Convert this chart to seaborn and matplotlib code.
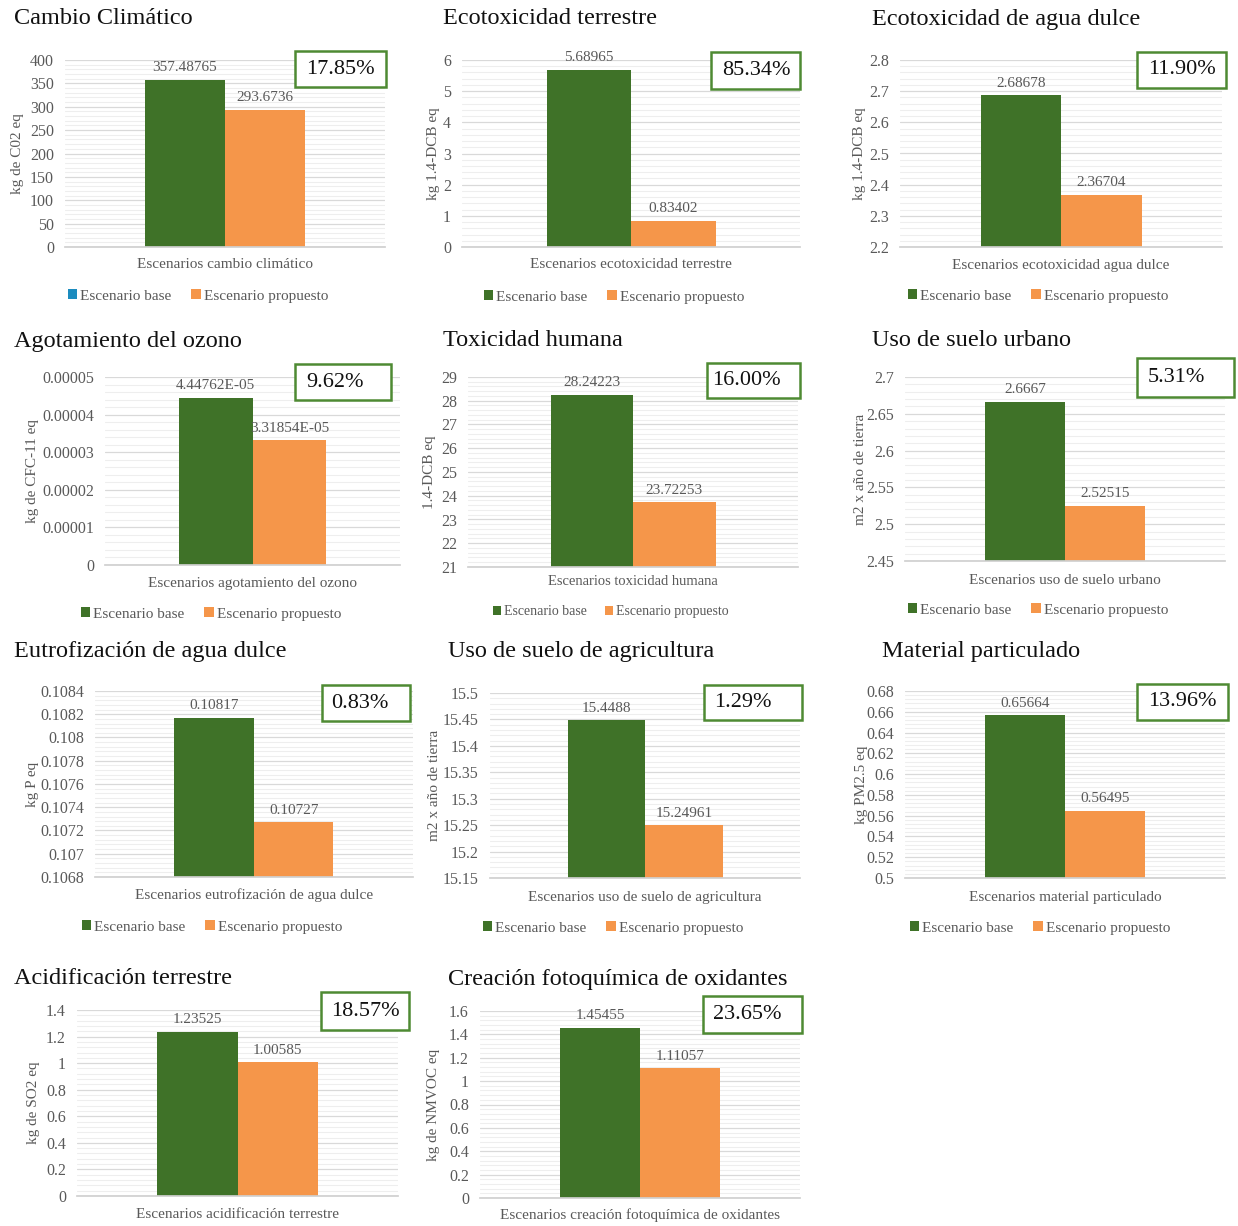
import numpy as np
import pandas as pd
import matplotlib
matplotlib.use("Agg")
import matplotlib.pyplot as plt
import seaborn as sns
from matplotlib.patches import Patch, Rectangle
from matplotlib.ticker import MultipleLocator, AutoMinorLocator, FuncFormatter

# ---- data ----
titles = ["Cambio Climático", "Ecotoxicidad terrestre", "Ecotoxicidad de agua dulce",
          "Agotamiento del ozono", "Toxicidad humana", "Uso de suelo urbano",
          "Eutrofización de agua dulce", "Uso de suelo de agricultura", "Material particulado",
          "Acidificación terrestre", "Creación fotoquímica de oxidantes"]
ylabels = ["kg de C02 eq", "kg 1.4-DCB eq", "kg 1.4-DCB eq",
           "kg de CFC-11 eq", "1.4-DCB eq", "m2 x año de tierra",
           "kg P eq", "m2 x año de tierra", "kg PM2.5 eq",
           "kg de SO2 eq", "kg de NMVOC eq"]
xlabels = ["Escenarios cambio climático", "Escenarios ecotoxicidad terrestre",
           "Escenarios ecotoxicidad agua dulce", "Escenarios agotamiento del ozono",
           "Escenarios toxicidad humana", "Escenarios uso de suelo urbano",
           "Escenarios eutrofización de agua dulce", "Escenarios uso de suelo de agricultura",
           "Escenarios material particulado", "Escenarios acidificación terrestre",
           "Escenarios creación fotoquímica de oxidantes"]
base_values = [357.48765, 5.68965, 2.68678, 4.44762e-05, 28.24223, 2.6667,
               0.10817, 15.4488, 0.65664, 1.23525, 1.45455]
prop_values = [293.6736, 0.83402, 2.36704, 3.31854e-05, 23.72253, 2.52515,
               0.10727, 15.24961, 0.56495, 1.00585, 1.11057]
pct_labels = ["17.85%", "85.34%", "11.90%", "9.62%", "16.00%", "5.31%",
              "0.83%", "1.29%", "13.96%", "18.57%", "23.65%"]
y_min = [0, 0, 2.2, 0, 21, 2.45, 0.1068, 15.15, 0.5, 0, 0]
y_max = [400, 6, 2.8, 0.00005, 29, 2.7, 0.1084, 15.5, 0.68, 1.4, 1.6]
y_step = [50, 1, 0.1, 0.00001, 1, 0.05, 0.0002, 0.05, 0.02, 0.2, 0.2]
scenarios = ["Escenario base", "Escenario propuesto"]

# ---- layout (pixels in a 1238x1226 canvas) ----
W, H = 1238, 1226
plot_rects = [(65, 60, 385, 247), (462, 60, 800, 247), (900, 60, 1222, 247),
              (105, 377, 400, 565), (468, 377, 798, 567), (905, 377, 1225, 561),
              (95, 691, 413, 877), (490, 693, 800, 878), (905, 691, 1225, 878),
              (77, 1010, 398, 1196), (480, 1011, 800, 1198)]
title_pos = [(14, 19), (443, 19), (872, 19), (14, 341), (443, 341), (872, 341),
             (14, 652), (448, 652), (882, 652), (14, 979), (448, 979)]
box_rects = [(295, 51, 386, 87), (711, 52, 800, 89), (1137, 52, 1226, 88),
             (295, 364, 391, 400), (707, 363, 800, 398), (1137, 358, 1234, 397),
             (322, 685, 410, 721), (704, 685, 802, 720), (1137, 684, 1228, 720),
             (321, 992, 409, 1030), (703, 996, 802, 1033)]
box_text_x = [340, 756, 1182, 335, 746, 1176, 360, 743, 1182, 365, 747]
xlabel_y = [265, 265, 265, 583, 582, 580, 895, 897, 898, 1215, 1215]
ylabel_x = [18, 434, 860, 33, 430, 860, 33, 434, 862, 33, 434]
legend_pos = [(198, 296), (614, 297), (1038, 296), (211, 614), (611, 612),
              (1038, 610), (212, 927), (613, 928), (1040, 928), None, None]

GREEN = "#3F7228"
ORANGE = "#F5964A"
GREY = "#595959"
BOX_EDGE = "#4E8A33"

sns.set_theme(style="white")
plt.rcParams["font.family"] = ["Liberation Serif", "DejaVu Serif"]

fig = plt.figure(figsize=(W / 100, H / 100), dpi=100)


def tick_fmt(v, pos):
    s = "%.6f" % round(v, 8)
    s = s.rstrip("0").rstrip(".")
    return "0" if s in ("", "-0") else s


def value_text(v):
    if abs(v) < 0.001:
        return "%.5E" % v
    return str(v)


for i in range(len(titles)):
    l, t, r, b = plot_rects[i]
    small = i == 4
    ax = fig.add_axes([l / W, 1 - b / H, (r - l) / W, (b - t) / H])
    df = pd.DataFrame({
        "grupo": [xlabels[i]] * 2,
        "escenario": scenarios,
        "valor": [base_values[i], prop_values[i]],
    })
    sns.barplot(data=df, x="grupo", y="valor", hue="escenario", hue_order=scenarios,
                palette=[GREEN, ORANGE], width=0.5, gap=0, ax=ax, legend=False,
                saturation=1, edgecolor="none")
    ax.set_xlim(-0.5, 0.5)
    ax.set_ylim(y_min[i], y_max[i])
    ax.yaxis.set_major_locator(MultipleLocator(y_step[i]))
    ax.yaxis.set_minor_locator(AutoMinorLocator(5))
    ax.yaxis.set_major_formatter(FuncFormatter(tick_fmt))
    ax.grid(True, which="major", axis="y", color="#d9d9d9", lw=0.9)
    ax.grid(True, which="minor", axis="y", color="#eeeeee", lw=0.8)
    ax.set_axisbelow(True)
    for sp in ["top", "right", "left"]:
        ax.spines[sp].set_visible(False)
    ax.spines["bottom"].set_color("#d0d0d0")
    ax.tick_params(axis="both", which="both", length=0)
    ax.tick_params(axis="y", labelsize=11.5, labelcolor=GREY, pad=8)
    ax.set_xticks([])
    ax.set_xlabel(xlabels[i], fontsize=10.5 if small else 11, color=GREY)
    ax.xaxis.set_label_coords(0.5, (b - xlabel_y[i]) / (b - t))
    ax.xaxis.label.set_va("center")
    ax.set_ylabel(ylabels[i], fontsize=11, color=GREY)
    ax.yaxis.set_label_coords((ylabel_x[i] - l) / (r - l), 0.5)
    ax.yaxis.label.set_va("center")

    labels = [value_text(base_values[i]), value_text(prop_values[i])]
    for cont, lab in zip(ax.containers, labels):
        ax.bar_label(cont, labels=[lab], padding=4, fontsize=11, color=GREY)

    fig.text(title_pos[i][0] / W, 1 - title_pos[i][1] / H, titles[i],
             fontsize=17.5, color="#111111", va="center", ha="left")

    bx0, by0, bx1, by1 = box_rects[i]
    fig.patches.append(Rectangle((bx0 / W, 1 - by1 / H), (bx1 - bx0) / W, (by1 - by0) / H,
                                 transform=fig.transFigure, facecolor="white",
                                 edgecolor=BOX_EDGE, lw=1.8, zorder=5))
    fig.text(box_text_x[i] / W, 1 - (by0 + by1) / 2 / H, pct_labels[i],
             fontsize=16, color="#111111", ha="center", va="center", zorder=6)

    if legend_pos[i] is not None:
        base_col = "#1C8CBF" if i == 0 else GREEN
        handles = [Patch(facecolor=base_col, edgecolor="none", label=scenarios[0]),
                   Patch(facecolor=ORANGE, edgecolor="none", label=scenarios[1])]
        lx, ly = legend_pos[i]
        leg = fig.legend(handles=handles, loc="center", bbox_to_anchor=(lx / W, 1 - ly / H),
                         ncol=2, frameon=False, fontsize=10 if small else 11,
                         handlelength=0.6, handleheight=0.6, handletextpad=0.2,
                         columnspacing=1.3, borderaxespad=0, borderpad=0)
        for txt in leg.get_texts():
            txt.set_color(GREY)

fig.savefig("out.png", dpi=100, facecolor="white")
